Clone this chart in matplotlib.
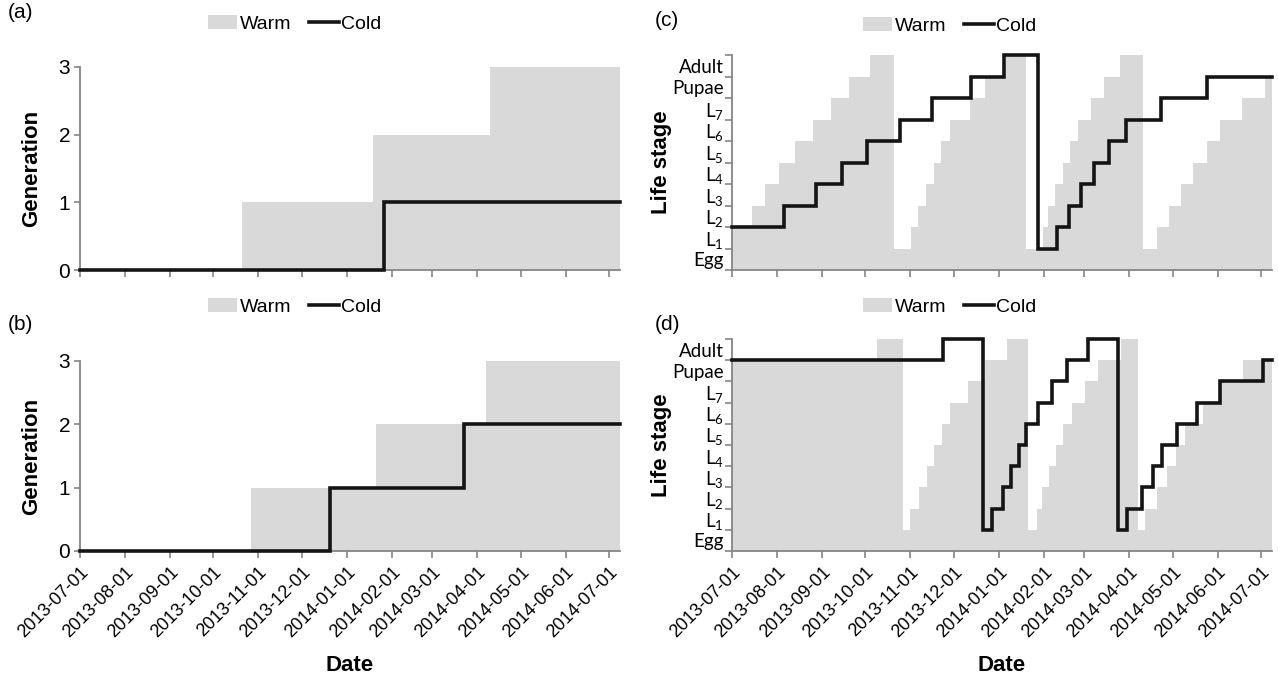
import matplotlib
matplotlib.use('Agg')
import matplotlib.pyplot as plt
import matplotlib.dates as mdates
import pandas as pd
from matplotlib.patches import Patch
from matplotlib.lines import Line2D

plt.rcParams['font.family'] = ['Liberation Sans', 'DejaVu Sans']
plt.rcParams['mathtext.default'] = 'regular'

# ---------------- data ----------------
start_date = '2013-07-01'
month_ticks = pd.date_range('2013-07-01', '2014-07-01', freq='MS')
tick_labels = [d.strftime('%Y-%m-%d') for d in month_ticks]
end_day = 372.5  # days after start where the axis ends

stage_labels = ['Egg', 'L$_1$', 'L$_2$', 'L$_3$', 'L$_4$', 'L$_5$',
                'L$_6$', 'L$_7$', 'Pupae', 'Adult']

# (a) generation, days since start_date when value changes
warm_a_day = [0, 112, 202, 283]
warm_a_gen = [0, 1, 2, 3]
cold_a_day = [0, 210]
cold_a_gen = [0, 1]

# (b)
warm_b_day = [0, 118, 204, 280]
warm_b_gen = [0, 1, 2, 3]
cold_b_day = [0, 172.5, 265]
cold_b_gen = [0, 1, 2]

# (c) life stage (1 = Egg ... 10 = Adult)
warm_c_day = [0, 14, 23, 32.5, 43.5, 55.8, 68.5, 80.6, 95.5,
              111.8, 123.3, 128.6, 134, 139, 144, 150.5, 164.5, 174.6, 188.7,
              202.8, 214.2, 217.8, 222.6, 228.2, 233.3, 238.9, 247.4, 256.9, 267.4,
              283.3, 293.5, 301.2, 309.4, 317.7, 327.8, 336.6, 351.6, 367.6]
warm_c_stage = [2, 3, 4, 5, 6, 7, 8, 9, 10,
                1, 2, 3, 4, 5, 6, 7, 8, 9, 10,
                1, 2, 3, 4, 5, 6, 7, 8, 9, 10,
                1, 2, 3, 4, 5, 6, 7, 8, 9]
cold_c_day = [0, 36, 58.2, 76, 93, 116, 138.2, 165, 187.5,
              211, 224, 232.5, 240.5, 249.5, 260.3, 272, 296, 327.5]
cold_c_stage = [2, 3, 4, 5, 6, 7, 8, 9, 10,
                1, 2, 3, 4, 5, 6, 7, 8, 9]

# (d)
warm_d_day = [0, 99.7,
              118, 122.9, 129, 134.2, 139.5, 144.6, 150.3, 163, 174.5, 189.4,
              204.4, 210.1, 214, 218.6, 223.2, 228.5, 234.3, 243.5, 252.7, 268,
              280.3, 284.9, 293, 299.9, 306.3, 312.5, 325.2, 336.7, 352.8]
warm_d_stage = [9, 10,
                1, 2, 3, 4, 5, 6, 7, 8, 9, 10,
                1, 2, 3, 4, 5, 6, 7, 8, 9, 10,
                1, 2, 3, 4, 5, 6, 7, 8, 9]
cold_d_day = [0, 145.7,
              173.3, 179.5, 186.7, 192.4, 198.1, 202.5, 211.3, 220.5, 230.9, 245.8,
              266.5, 272.3, 282.6, 290.7, 296.4, 307.2, 321, 336.7, 366.2]
cold_d_stage = [9, 10,
                1, 2, 3, 4, 5, 6, 7, 8, 9, 10,
                1, 2, 3, 4, 5, 6, 7, 8, 9]

# ---------------- style ----------------
WARM = '#d9d9d9'
COLD = '#141414'
AXC = '#858585'
W, H = 1278, 685
start = pd.Timestamp(start_date)


def to_num(days):
    return mdates.date2num(start + pd.to_timedelta(list(days), unit='D'))


def step_xy(days, vals):
    d = list(days) + [end_day]
    v = list(vals) + [vals[-1]]
    return to_num(d), v


fig = plt.figure(figsize=(W / 100, H / 100), dpi=100)


def add_ax(l, t, r, b):
    return fig.add_axes([l / W, 1 - b / H, (r - l) / W, (b - t) / H])


ax_a = add_ax(80, 67, 620, 270)
ax_b = add_ax(80, 361, 620, 551)
ax_c = add_ax(732, 55, 1272, 270)
ax_d = add_ax(732, 339, 1272, 551)


def draw(ax, wd, wv, cd, cv):
    x, v = step_xy(wd, wv)
    ax.fill_between(x, 0, v, step='post', color=WARM, linewidth=0, zorder=1)
    x, v = step_xy(cd, cv)
    ax.step(x, v, where='post', color=COLD, lw=2.6, clip_on=False, zorder=3,
            solid_joinstyle='miter')
    ax.set_xlim(to_num([0])[0], to_num([end_day])[0])
    for s in ['top', 'right']:
        ax.spines[s].set_visible(False)
    for s in ['left', 'bottom']:
        ax.spines[s].set_color(AXC)
        ax.spines[s].set_linewidth(1.3)
        ax.spines[s].set_zorder(2)
    ax.set_xticks(to_num([(d - start).days for d in month_ticks]))
    ax.tick_params(axis='both', which='major', color=AXC, width=1.2, length=5,
                   direction='out')


draw(ax_a, warm_a_day, warm_a_gen, cold_a_day, cold_a_gen)
draw(ax_b, warm_b_day, warm_b_gen, cold_b_day, cold_b_gen)
draw(ax_c, warm_c_day, warm_c_stage, cold_c_day, cold_c_stage)
draw(ax_d, warm_d_day, warm_d_stage, cold_d_day, cold_d_stage)

for ax in (ax_a, ax_b):
    ax.set_ylim(0, 3)
    ax.set_yticks([0, 1, 2, 3])
    ax.tick_params(axis='y', labelsize=15, length=4, pad=3)
    ax.set_ylabel('Generation', fontsize=16, fontweight='bold', labelpad=12)

for ax in (ax_c, ax_d):
    ax.set_ylim(0, 10)
    ax.set_yticks(range(0, 11))
    ax.set_yticklabels([''] * 11)
    ax.set_yticks([i + 0.5 for i in range(10)], minor=True)
    ax.set_yticklabels(stage_labels, minor=True, fontfamily='Lato', fontsize=13.5)
    ax.tick_params(axis='y', which='minor', length=0, pad=6)
    ax.set_ylabel('Life stage', fontsize=16, fontweight='bold', labelpad=0)

for ax in (ax_a, ax_c):
    ax.set_xticklabels([])
for ax in (ax_b, ax_d):
    ax.set_xticklabels(tick_labels, rotation=45, ha='right',
                       rotation_mode='anchor', fontsize=13)
    ax.tick_params(axis='x', pad=4)
    ax.set_xlabel('Date', fontsize=16, fontweight='bold', labelpad=10)

handles = [Patch(facecolor=WARM, edgecolor='none', label='Warm'),
           Line2D([], [], color=COLD, lw=2.6, label='Cold')]
for cx, cy in [(295, 24), (295, 307), (950, 26), (950, 307)]:
    fig.legend(handles=handles, loc='center', bbox_to_anchor=(cx / W, 1 - cy / H),
               ncol=2, frameon=False, fontsize=14, handlelength=1.5,
               handletextpad=0.15, columnspacing=0.9)

for lab, px, py in [('(a)', 8, 12), ('(b)', 8, 325), ('(c)', 655, 20), ('(d)', 655, 325)]:
    fig.text(px / W, 1 - py / H, lab, fontsize=15, ha='left', va='center')

fig.savefig('out.png', dpi=100)
